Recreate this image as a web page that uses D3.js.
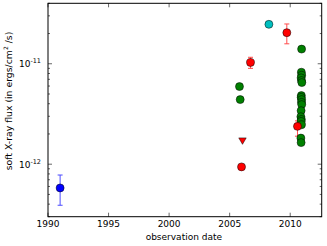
<!DOCTYPE html>
<html><head><meta charset="utf-8">
<script src="https://cdn.jsdelivr.net/npm/d3@7"></script>
<style>body{margin:0;background:#fff}svg{display:block}text{font-family:"DejaVu Sans",sans-serif;}</style>
</head><body><svg id="c" width="327" height="246"></svg>
<script>
// Data (year, flux in ergs/cm^2/s)
const blueYears = [1991.0];
const blueFlux = [5.8e-13];
const blueLo = [3.9e-13];
const blueHi = [7.8e-13];

const redYears = [2006.72, 2009.72, 2005.98, 2010.6];
const redFlux = [1.03e-11, 2.04e-11, 9.4e-13, 2.38e-12];
const redLo = [0.9e-11, 1.58e-11, null, 1.9e-12];
const redHi = [1.16e-11, 2.49e-11, null, 2.7e-12];

const redLimitYears = [2006.06];
const redLimitFlux = [1.74e-12];

const cyanYears = [2008.24];
const cyanFlux = [2.47e-11];

const greenYears = [2005.81, 2005.87, 2010.94, 2010.92, 2010.95, 2010.9, 2010.93, 2010.96,
  2010.92, 2010.9, 2010.94, 2010.93, 2010.95, 2010.9, 2010.88, 2010.92, 2010.9, 2010.93, 2010.88, 2010.9];
const greenFlux = [5.93e-12, 4.4e-12, 1.4e-11, 8.24e-12, 7.69e-12, 7.24e-12, 6.81e-12, 6.5e-12,
  4.82e-12, 4.63e-12, 4.4e-12, 4.13e-12, 3.92e-12, 3.41e-12, 2.97e-12, 2.79e-12, 2.67e-12, 2.47e-12, 1.82e-12, 1.64e-12];

const xTicks = [1990, 1995, 2000, 2005, 2010];
const yMajor = [1e-12, 1e-11];

const svg = d3.select("#c");
const L = 48, R = 321.7, T = 3.3, B = 216.7;
const x = d3.scaleLinear().domain([1990, 2012.6]).range([L, R]);
const y = d3.scaleLog().domain([3e-13, 4e-11]).range([B, T]);

const g = svg.append("g");

// ticks inside
const yMinor = [];
for (let e = -13; e <= -11; e++) for (let m = 1; m <= 9; m++) {
  const v = m * Math.pow(10, e);
  if (v >= 3e-13 && v <= 4e-11 && m !== 1) yMinor.push(v);
}
const tk = g.append("g").attr("stroke", "#000").attr("stroke-width", 0.6);
xTicks.forEach(t => {
  tk.append("line").attr("x1", x(t)).attr("x2", x(t)).attr("y1", B).attr("y2", B - 4);
  tk.append("line").attr("x1", x(t)).attr("x2", x(t)).attr("y1", T).attr("y2", T + 4);
});
yMajor.forEach(t => {
  tk.append("line").attr("x1", L).attr("x2", L + 4).attr("y1", y(t)).attr("y2", y(t));
  tk.append("line").attr("x1", R).attr("x2", R - 4).attr("y1", y(t)).attr("y2", y(t));
});
yMinor.forEach(t => {
  tk.append("line").attr("x1", L).attr("x2", L + 2).attr("y1", y(t)).attr("y2", y(t));
  tk.append("line").attr("x1", R).attr("x2", R - 2).attr("y1", y(t)).attr("y2", y(t));
});

// x tick labels
g.selectAll(".xl").data(xTicks).join("text").attr("x", d => x(d)).attr("y", 227)
  .attr("text-anchor", "middle").attr("font-size", 9).text(d => d);
// y tick labels
yMajor.forEach(t => {
  const e = Math.round(Math.log10(t));
  const tx = g.append("text").attr("x", 41).attr("y", y(t) + 3.5).attr("text-anchor", "end").attr("font-size", 9);
  tx.append("tspan").text("10");
  tx.append("tspan").attr("dy", -4).attr("font-size", 6.5).text("-" + Math.abs(e));
});
// axis labels
g.append("text").attr("x", (L + R) / 2 - 1).attr("y", 240).attr("text-anchor", "middle").attr("font-size", 9).text("observation date");
const yl = g.append("text").attr("transform", `translate(11.5,${(T + B) / 2 - 9}) rotate(-90)`).attr("text-anchor", "middle").attr("font-size", 9.3);
yl.append("tspan").text("soft X-ray flux (in ergs/cm");
yl.append("tspan").attr("dy", -3.5).attr("font-size", 6).text("2");
yl.append("tspan").attr("dy", 3.5).text(" /s)");

// error bars
function errbars(xs, lo, hi, color) {
  xs.forEach((xv, i) => {
    if (lo[i] == null) return;
    const eg = g.append("g").attr("stroke", color).attr("stroke-width", 1).attr("opacity", 0.7);
    eg.append("line").attr("x1", x(xv)).attr("x2", x(xv)).attr("y1", y(lo[i])).attr("y2", y(hi[i]));
    [lo[i], hi[i]].forEach(v => eg.append("line").attr("x1", x(xv) - 2.5).attr("x2", x(xv) + 2.5).attr("y1", y(v)).attr("y2", y(v)));
  });
}
errbars(blueYears, blueLo, blueHi, "#0000ff");
errbars(redYears, redLo, redHi, "#ff0000");

function dots(xs, ys, color) {
  g.append("g").selectAll("circle").data(xs).join("circle")
    .attr("cx", d => x(d)).attr("cy", (d, i) => y(ys[i])).attr("r", 4)
    .attr("fill", color).attr("stroke", "#000").attr("stroke-width", 0.5);
}
dots(blueYears, blueFlux, "#0000ff");
dots(cyanYears, cyanFlux, "#00bfbf");
dots(greenYears, greenFlux, "#008000");
dots(redYears, redFlux, "#ff0000");
// upper-limit triangle
g.append("g").selectAll("path").data(redLimitYears).join("path")
  .attr("d", d3.symbol().type(d3.symbolTriangle).size(24)())
  .attr("transform", (d, i) => `translate(${x(d)},${y(redLimitFlux[i])}) rotate(180)`)
  .attr("fill", "#ff0000").attr("stroke", "#000").attr("stroke-width", 0.5);

// frame
g.append("rect").attr("x", L).attr("y", T).attr("width", R - L).attr("height", B - T)
  .attr("fill", "none").attr("stroke", "#000").attr("stroke-width", 1);
</script></body></html>
